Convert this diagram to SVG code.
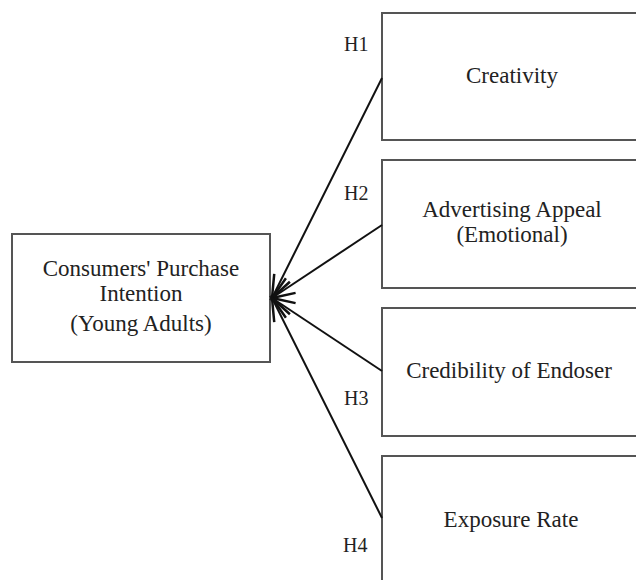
<svg xmlns="http://www.w3.org/2000/svg" width="636" height="580" viewBox="0 0 636 580">
<style>
.box{fill:#fff;stroke:#555;stroke-width:2}
.t{font-family:"Liberation Serif","Times New Roman",serif;font-size:23px;fill:#222;text-anchor:middle}
.h{font-family:"Liberation Serif","Times New Roman",serif;font-size:20px;fill:#222}
.c{stroke:#111;stroke-width:2;fill:none}
</style>
<defs>
<marker id="arr" markerUnits="userSpaceOnUse" markerWidth="30" markerHeight="30" viewBox="-20 -10 24 20" refX="0" refY="0" orient="auto">
<path d="M-18,-7 L0,0 L-18,7" fill="none" stroke="#111" stroke-width="2"/>
</marker>
</defs>
<rect width="636" height="580" fill="#fff"/>
<g id="purchase">
<rect class="box" x="12" y="234" width="258" height="128"/>
<text class="t" x="141" y="276">Consumers' Purchase</text>
<text class="t" x="141" y="301">Intention</text>
<text class="t" x="141" y="331">(Young Adults)</text>
</g>
<g id="creativity">
<rect class="box" x="382" y="13" width="262" height="127"/>
<text class="t" x="512" y="83">Creativity</text>
</g>
<g id="appeal">
<rect class="box" x="382" y="160" width="262" height="128"/>
<text class="t" x="512" y="217">Advertising Appeal</text>
<text class="t" x="512" y="242">(Emotional)</text>
</g>
<g id="credibility">
<rect class="box" x="382" y="308" width="262" height="128"/>
<text class="t" x="509" y="378">Credibility of Endoser</text>
</g>
<g id="exposure">
<rect class="box" x="382" y="456" width="262" height="140"/>
<text class="t" x="511" y="527">Exposure Rate</text>
</g>
<g id="connectors">
<line class="c" x1="382" y1="78" x2="272" y2="298" marker-end="url(#arr)"/>
<line class="c" x1="382" y1="225" x2="272" y2="298" marker-end="url(#arr)"/>
<line class="c" x1="382" y1="371" x2="272" y2="298" marker-end="url(#arr)"/>
<line class="c" x1="382" y1="518" x2="272" y2="298" marker-end="url(#arr)"/>
</g>
<g id="labels">
<text class="h" x="344" y="51">H1</text>
<text class="h" x="344" y="200">H2</text>
<text class="h" x="344" y="405">H3</text>
<text class="h" x="343" y="552">H4</text>
</g>
</svg>
